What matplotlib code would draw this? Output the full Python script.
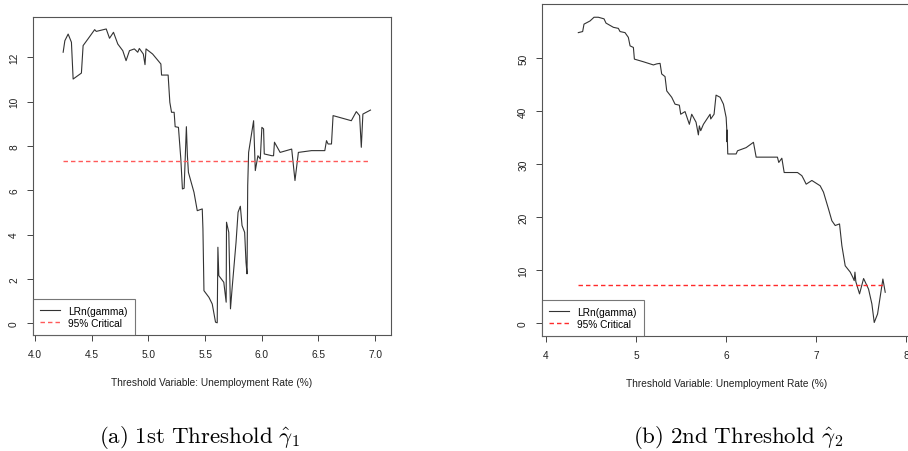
import matplotlib
matplotlib.use("Agg")
import matplotlib.pyplot as plt
import numpy as np

# panel (a): LR statistic for the 1st threshold
x1 = [4.248, 4.263, 4.292, 4.321, 4.336, 4.409, 4.424, 4.467, 4.526, 4.54,
      4.628, 4.657, 4.692, 4.73, 4.774, 4.803, 4.833, 4.876, 4.906, 4.92,
      4.955, 4.97, 4.979, 5.037, 5.11, 5.116, 5.174, 5.189, 5.204, 5.227,
      5.236, 5.265, 5.286, 5.30, 5.315, 5.335, 5.344, 5.353, 5.373, 5.402,
      5.431, 5.475, 5.481, 5.49, 5.534, 5.563, 5.592, 5.607, 5.613, 5.621,
      5.665, 5.686, 5.689, 5.709, 5.724, 5.738, 5.773, 5.791, 5.811, 5.826,
      5.849, 5.861, 5.87, 5.876, 5.884, 5.928, 5.943, 5.966, 5.987, 6.001,
      6.016, 6.022, 6.089, 6.104, 6.112, 6.162, 6.264, 6.293, 6.323, 6.439,
      6.556, 6.571, 6.585, 6.615, 6.629, 6.79, 6.834, 6.863, 6.878, 6.892,
      6.959]
lr1 = [12.23, 12.75, 13.05, 12.68, 11.02, 11.29, 12.53, 12.83, 13.25, 13.17,
       13.28, 12.86, 13.13, 12.6, 12.3, 11.85, 12.3, 12.38, 12.23, 12.4,
       12.15, 11.67, 12.38, 12.15, 11.7, 11.2, 11.2, 9.97, 9.52, 9.52,
       8.87, 8.84, 7.41, 6.06, 6.09, 8.87, 7.56, 6.81, 6.44, 5.91,
       5.08, 5.16, 4.26, 1.47, 1.17, 0.87, 0.05, 0.02, 3.43, 2.15,
       1.85, 0.95, 4.56, 4.1, 0.65, 1.55, 3.65, 5.01, 5.28, 4.41,
       4.1, 2.75, 2.23, 6.21, 7.71, 9.14, 6.89, 7.56, 7.41, 8.84,
       8.77, 7.64, 7.56, 7.56, 8.17, 7.71, 7.86, 6.44, 7.71, 7.79,
       7.79, 8.24, 8.09, 8.09, 9.37, 9.14, 9.55, 9.37, 7.94, 9.44,
       9.62]
crit1 = 7.34

# panel (b): LR statistic for the 2nd threshold
x2 = [4.359, 4.407, 4.422, 4.489, 4.533, 4.581, 4.644, 4.666, 4.748, 4.803,
      4.822, 4.877, 4.914, 4.933, 4.97, 4.981, 5.081, 5.192, 5.229, 5.266,
      5.284, 5.321, 5.34, 5.395, 5.432, 5.48, 5.495, 5.543, 5.591, 5.617,
      5.665, 5.691, 5.702, 5.717, 5.747, 5.821, 5.828, 5.865, 5.887, 5.932,
      5.969, 5.999, 6.006, 6.009, 6.011, 6.013, 6.017, 6.11, 6.125, 6.173,
      6.221, 6.302, 6.332, 6.568, 6.583, 6.617, 6.643, 6.791, 6.839, 6.858,
      6.887, 6.95, 7.042, 7.079, 7.135, 7.172, 7.209, 7.257, 7.283, 7.32,
      7.376, 7.405, 7.42, 7.428, 7.438, 7.479, 7.524, 7.579, 7.616, 7.642,
      7.679, 7.738, 7.764]
lr2 = [54.8, 55.0, 56.4, 57.0, 57.7, 57.7, 57.4, 56.6, 55.8, 55.6,
       55.0, 54.8, 53.9, 52.3, 52.0, 49.8, 49.3, 48.7, 48.9, 49.0,
       47.0, 46.5, 43.8, 42.6, 41.3, 41.1, 39.4, 39.9, 37.5, 39.4,
       37.9, 35.5, 37.2, 36.3, 37.5, 39.4, 38.5, 39.4, 43.0, 42.6,
       41.3, 38.8, 36.6, 34.2, 36.4, 34.4, 31.9, 31.9, 32.5, 32.8,
       33.1, 34.1, 31.3, 31.3, 30.3, 31.1, 28.4, 28.4, 27.8, 27.2,
       26.2, 26.9, 25.9, 24.7, 21.5, 19.3, 18.4, 18.7, 14.6, 10.8,
       9.6, 8.6, 8.0, 9.6, 7.8, 5.5, 8.4, 6.4, 3.6, 0.1,
       1.7, 8.3, 5.8]
crit2 = 7.25

xticks1 = [4.0, 4.5, 5.0, 5.5, 6.0, 6.5, 7.0]
yticks1 = [0, 2, 4, 6, 8, 10, 12]
xticks2 = [4, 5, 6, 7, 8]
yticks2 = [0, 10, 20, 30, 40, 50]

plt.rcParams['font.family'] = ['Liberation Sans', 'DejaVu Sans']
plt.rcParams['mathtext.fontset'] = 'cm'

W, H = 908, 452
fig = plt.figure(figsize=(W / 100, H / 100), dpi=100)


def px_axes(l, t, r, b):
    return fig.add_axes([l / W, 1 - b / H, (r - l) / W, (b - t) / H])


def draw_panel(ax, x, y, crit, crit_color, xticks, xfmt, yticks, xlim, ylim):
    ax.plot(x, y, color='#333333', lw=0.8)
    ax.hlines(crit, min(x), max(x), colors=crit_color, lw=1.0,
              linestyles=(0, (3.2, 2.2)))
    ax.set_xlim(*xlim)
    ax.set_ylim(*ylim)
    ax.set_xticks(xticks)
    ax.set_xticklabels([xfmt.format(v) for v in xticks])
    ax.set_yticks(yticks)
    ax.set_yticklabels([str(v) for v in yticks], rotation=90, va='center')
    ax.tick_params(length=4, width=0.7, color='#444444', labelsize=7.3,
                   labelcolor='#222222', pad=6)
    for s in ax.spines.values():
        s.set_color('#555555')
        s.set_linewidth(0.8)
    ax.set_xlabel('Threshold Variable: Unemployment Rate (%)', fontsize=7.3,
                  color='#222222', labelpad=13)
    ax.plot([], [], color='#333333', lw=0.8, label='LRn(gamma)')
    ax.plot([], [], color=crit_color, lw=1.0, ls=(0, (3.2, 2.2)),
            label='95% Critical')
    h, l = ax.get_legend_handles_labels()
    leg = ax.legend(h, l, loc='lower left', bbox_to_anchor=(0, 0),
                    borderaxespad=0, fontsize=7.3, fancybox=False,
                    edgecolor='#555555', handlelength=2.0, handletextpad=0.8,
                    labelspacing=0.2, borderpad=0.7)
    leg.get_frame().set_linewidth(0.8)


ax1 = px_axes(33, 18, 391, 336)
draw_panel(ax1, x1, lr1, crit1, '#ff5a5a', xticks1, '{:.1f}', yticks1,
           (3.982, 7.14), (-0.53, 13.82))

ax2 = px_axes(542, 5, 911, 337)
draw_panel(ax2, x2, lr2, crit2, '#ff2a2a', xticks2, '{:d}', yticks2,
           (3.956, 8.05), (-2.45, 60.2))

fig.text(200 / W, 1 - 443 / H, r'$\mathrm{(a)\ 1st\ Threshold}\ \hat{\gamma}_1$',
         ha='center', va='baseline', fontsize=16.5)
fig.text(738 / W, 1 - 443 / H, r'$\mathrm{(b)\ 2nd\ Threshold}\ \hat{\gamma}_2$',
         ha='center', va='baseline', fontsize=16.5)

fig.savefig('out.png', dpi=100)
